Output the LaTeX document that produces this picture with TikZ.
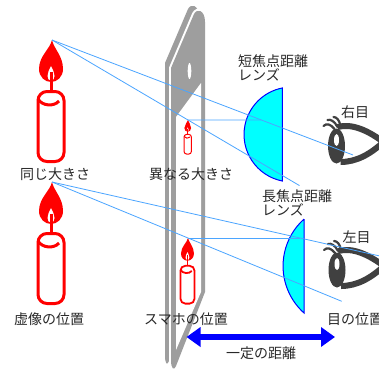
\documentclass[tikz,border=0pt]{standalone}
\usepackage{fontspec}
\setmainfont{Noto Sans CJK JP}
\usetikzlibrary{arrows.meta,calc}

\definecolor{candlered}{RGB}{255,0,0}
\definecolor{phonegray}{RGB}{158,158,158}
\definecolor{raycol}{RGB}{75,165,255}
\definecolor{eyegray}{RGB}{64,64,64}
\definecolor{lensfill}{RGB}{0,255,255}
\definecolor{lensedge}{RGB}{0,0,255}
\definecolor{txtcol}{RGB}{40,40,40}

\tikzset{
  candle/.pic={
    % flame with its bright core
    \fill[candlered] (0,0) .. controls (2,9) and (11,16) .. (11,29)
       .. controls (11,37) and (5,42) .. (-1,42)
       .. controls (-7,42) and (-13,37) .. (-13,29)
       .. controls (-13,16) and (-2,9) .. (0,0) -- cycle;
    \fill[white] (-1,26) .. controls (1,30) and (2.5,33) .. (2.5,36)
       .. controls (2.5,39) and (1,40.5) .. (-1,40.5)
       .. controls (-3,40.5) and (-4.5,39) .. (-4.5,36)
       .. controls (-4.5,33) and (-3,30) .. (-1,26) -- cycle;
    % wick, body and rim
    \draw[candlered] (-1,32) -- (-1,52);
    \draw[candlered] (-14,60.5) arc[start angle=180, end angle=270, radius=9]
       -- (3,51.5) arc[start angle=270, end angle=360, radius=9]
       -- (12,112.5) arc[start angle=0, end angle=90, radius=9]
       -- (-5,121.5) arc[start angle=90, end angle=180, radius=9] -- cycle;
    \draw[candlered] (-14,59) .. controls (-10,66) and (2,67) .. (7,61);
    \coordinate (-tip) at (0,0);
  },
  eye/.pic={
    % lids, iris, lashes
    \draw[eyegray, line width=6pt, line join=round]
       (1,-19) .. controls (16,-23) and (32,-15) .. (47,-4)
       .. controls (34,8) and (20,16) .. (4,16);
    \fill[eyegray] (0,0) ellipse[x radius=8.5, y radius=17.5];
    \fill[white] (0,-6) ellipse[x radius=2.5, y radius=6];
    \draw[eyegray, line width=2.2pt, line cap=round]
       (-2,-17) .. controls (-6,-22) and (-10,-23) .. (-13,-20)
       (1,-19) .. controls (-2,-25) and (-6,-27) .. (-9,-26)
       (4,-20) .. controls (3,-26) and (0,-29) .. (-3,-29);
  }
}

\begin{document}
\begin{tikzpicture}[
    x=1pt, y=-1pt,
    lbl/.style={font=\fontsize{14}{14}\selectfont, text=txtcol, inner sep=0pt},
    ray/.style={draw=raycol, line width=0.8pt},
    lens/.style={fill=lensfill, draw=lensedge, line width=1pt},
    dist/.style={{Triangle[length=14pt,width=19pt]}-{Triangle[length=14pt,width=19pt]},
                 draw=lensedge, line width=6pt},
    phone/.style={fill=phonegray}
]

\useasboundingbox (0,0) rectangle (379,372);
\fill[white] (0,0) rectangle (379,372);

\def\faceoutline{(171,68) -- (194,14) .. controls (197,8) and (205,10) .. (205,22)
   -- (205,292) -- (176,366) .. controls (174,371) and (171,369) .. (171,360) -- cycle}

% ── Phone: side, seam, face, screen ──────────────────────────────────────────
\fill[phone] (165,63) -- (188,9) .. controls (191,3) and (199,5) .. (199,17)
   -- (199,287) -- (169,361) .. controls (167,366) and (165,364) .. (165,355) -- cycle;
\draw[white, line width=4pt] \faceoutline;
\fill[phone] \faceoutline;
\fill[white] (176,117) -- (201,83) -- (201,292) -- (176,350) -- cycle;
\fill[white] (189.5,71) ellipse[x radius=1.8, y radius=8];

% ── Candles: on the screen and the images seen ───────────────────────────────
\pic[scale=0.28, line width=1pt] (scrTop) at (188,120) {candle};
\pic[scale=0.54, line width=1.8pt] (scrBot) at (188,238) {candle};
\pic[line width=3pt] (imgTop) at (52,40) {candle};
\pic[line width=3pt] (imgBot) at (52,182) {candle};

% ── Lenses ───────────────────────────────────────────────────────────────────
\filldraw[lens] (282.3,88) -- (282.3,181)
   arc[start angle=101.1, end angle=258.9, radius=47.4] -- cycle;
\filldraw[lens] (304,219) -- (304,313)
   arc[start angle=131.9, end angle=228.1, radius=63.1] -- cycle;

% ── Eyes ─────────────────────────────────────────────────────────────────────
\pic (eyeRight) at (336.5,146) {eye};
\pic (eyeLeft) at (337,270) {eye};

% ── Rays ─────────────────────────────────────────────────────────────────────
\coordinate (eyeR) at (353,155);
\coordinate (endTop) at ($(imgTop-tip)!1.82!(scrTop-tip)$);
\coordinate (farTop) at ([xshift=150pt]scrTop-tip);
\coordinate (hitTop) at (intersection of imgTop-tip--eyeR and scrTop-tip--farTop);
\draw[ray] (imgTop-tip) -- (eyeR);
\draw[ray] (imgTop-tip) -- (endTop);
\draw[ray] (scrTop-tip) -- (hitTop);

\coordinate (eyeL) at (382,256.5);
\coordinate (endBot) at ($(imgBot-tip)!2.13!(scrBot-tip)$);
\coordinate (farBot) at ([xshift=150pt]scrBot-tip);
\coordinate (hitBot) at (intersection of imgBot-tip--eyeL and scrBot-tip--farBot);
\draw[ray] (imgBot-tip) -- (eyeL);
\draw[ray] (imgBot-tip) -- (endBot);
\draw[ray] (scrBot-tip) -- (hitBot);

% ── Fixed distance arrow ─────────────────────────────────────────────────────
\coordinate (phonePos) at (186.5,337);
\coordinate (eyePos) at (335,337);
\draw[dist] (phonePos) -- (eyePos);

% ── Labels ───────────────────────────────────────────────────────────────────
\node[lbl] (lblSame) at (55,174) {同じ大きさ};
\node[lbl] (lblDiff) at (191,174) {異なる大きさ};
\node[lbl] (lblVirt) at (49,319) {虚像の位置};
\node[lbl] (lblPhone) at (186,319) {スマホの位置};
\node[lbl, anchor=west] (lblEye) at (327,319) {目の位置};
\node[lbl] (lblDist) at (261,353) {一定の距離};
\node[lbl, align=left, anchor=west] (lblShort) at (238,68) {短焦点距離\\レンズ};
\node[lbl, align=left, anchor=west] (lblLong) at (262,203) {長焦点距離\\レンズ};
\node[lbl] (lblRight) at (355,112) {右目};
\node[lbl] (lblLeft) at (356.5,237) {左目};

\end{tikzpicture}
\end{document}
